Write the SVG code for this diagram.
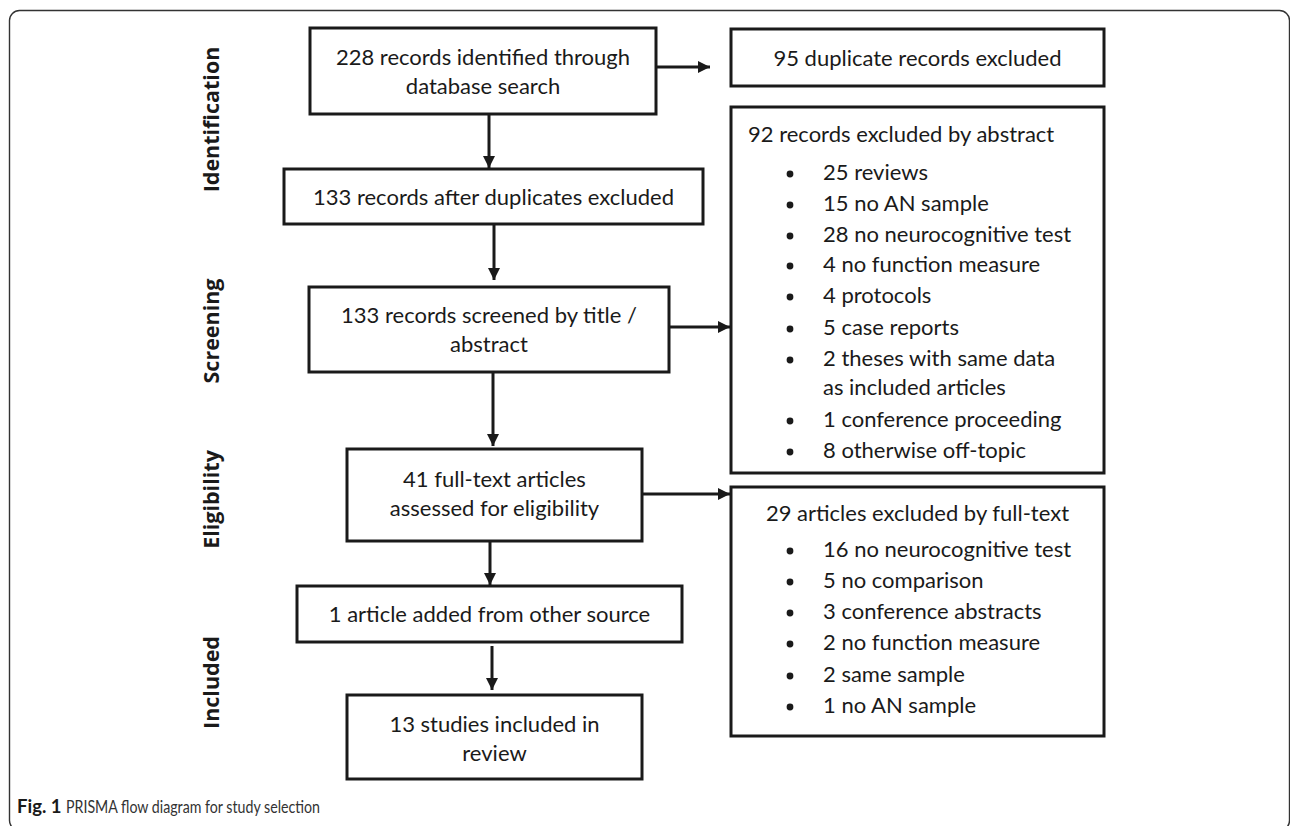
<svg xmlns="http://www.w3.org/2000/svg" width="1290" height="826" viewBox="0 0 1290 826">
  <defs>
    <marker id="arrow" markerUnits="userSpaceOnUse" markerWidth="13" markerHeight="12" refX="12" refY="6" orient="auto">
      <path d="M0,0 L12,6 L0,12 Z" fill="#1a1a1a"/>
    </marker>
    <style>
      .box { fill: #ffffff; stroke: #1a1a1a; stroke-width: 3; }
      .t { font-family: Lato, "Liberation Sans", sans-serif; font-size: 22px; fill: #1a1a1a; }
      .c { text-anchor: middle; }
      .side { font-family: "Open Sans", "Liberation Sans", sans-serif; font-size: 21.5px; font-weight: bold; fill: #1a1a1a; text-anchor: middle; }
      .bul { fill: #1a1a1a; }
      .conn { stroke: #1a1a1a; stroke-width: 3; fill: none; marker-end: url(#arrow); }
      .cap { font-family: Lato, "Liberation Sans", sans-serif; font-size: 17.5px; fill: #333333; }
      .capb { font-family: Lato, "Liberation Sans", sans-serif; font-size: 18.5px; font-weight: bold; fill: #1a1a1a; }
    </style>
  </defs>
  <rect width="1290" height="826" fill="#ffffff"/>
  <rect x="9.5" y="10.5" width="1280" height="820" rx="10" ry="10" fill="none" stroke="#333333" stroke-width="1.4"/>

  <g id="side-labels">
    <text class="side" transform="translate(219,119.5) rotate(-90)">Identification</text>
    <text class="side" transform="translate(219,331) rotate(-90)">Screening</text>
    <text class="side" transform="translate(219,499.5) rotate(-90)">Eligibility</text>
    <text class="side" transform="translate(219,682.5) rotate(-90)">Included</text>
  </g>

  <g id="connectors">
    <line class="conn" x1="656" y1="67" x2="710" y2="67"/>
    <line class="conn" x1="489" y1="114" x2="489" y2="168"/>
    <line class="conn" x1="494" y1="224" x2="494" y2="280"/>
    <line class="conn" x1="669" y1="327" x2="730" y2="327"/>
    <line class="conn" x1="493" y1="372" x2="493" y2="446"/>
    <line class="conn" x1="642" y1="494" x2="730" y2="494"/>
    <line class="conn" x1="490" y1="541" x2="490" y2="585"/>
    <line class="conn" x1="492" y1="646" x2="492" y2="690"/>
  </g>

  <g id="node-identified">
    <rect class="box" x="310" y="28" width="346" height="86"/>
    <text class="t c" x="483" y="64.5">228 records identified through</text>
    <text class="t c" x="483" y="93.5">database search</text>
  </g>

  <g id="node-duplicates">
    <rect class="box" x="731" y="29" width="373" height="57"/>
    <text class="t c" x="917.5" y="65.5">95 duplicate records excluded</text>
  </g>

  <g id="node-after-duplicates">
    <rect class="box" x="284" y="169" width="419" height="55"/>
    <text class="t c" x="493.5" y="204.5">133 records after duplicates excluded</text>
  </g>

  <g id="node-screened">
    <rect class="box" x="309" y="287" width="360" height="85"/>
    <text class="t c" x="489" y="323">133 records screened by title /</text>
    <text class="t c" x="489" y="352">abstract</text>
  </g>

  <g id="node-excluded-abstract">
    <rect class="box" x="731" y="107" width="373" height="366"/>
    <text class="t" x="748" y="142">92 records excluded by abstract</text>
    <circle class="bul" cx="790" cy="174" r="3.4"/>
    <text class="t" x="823" y="180">25 reviews</text>
    <circle class="bul" cx="790" cy="205" r="3.4"/>
    <text class="t" x="823" y="211">15 no AN sample</text>
    <circle class="bul" cx="790" cy="236" r="3.4"/>
    <text class="t" x="823" y="242">28 no neurocognitive test</text>
    <circle class="bul" cx="790" cy="266" r="3.4"/>
    <text class="t" x="823" y="272">4 no function measure</text>
    <circle class="bul" cx="790" cy="297" r="3.4"/>
    <text class="t" x="823" y="303">4 protocols</text>
    <circle class="bul" cx="790" cy="329" r="3.4"/>
    <text class="t" x="823" y="335">5 case reports</text>
    <circle class="bul" cx="790" cy="360" r="3.4"/>
    <text class="t" x="823" y="366">2 theses with same data</text>
    <text class="t" x="823" y="395">as included articles</text>
    <circle class="bul" cx="790" cy="421" r="3.4"/>
    <text class="t" x="823" y="427">1 conference proceeding</text>
    <circle class="bul" cx="790" cy="452" r="3.4"/>
    <text class="t" x="823" y="458">8 otherwise off-topic</text>
  </g>

  <g id="node-fulltext">
    <rect class="box" x="347" y="449" width="295" height="92"/>
    <text class="t c" x="494.5" y="487">41 full-text articles</text>
    <text class="t c" x="494.5" y="516">assessed for eligibility</text>
  </g>

  <g id="node-excluded-fulltext">
    <rect class="box" x="731" y="487" width="373" height="249"/>
    <text class="t c" x="917.5" y="521">29 articles excluded by full-text</text>
    <circle class="bul" cx="790" cy="551" r="3.4"/>
    <text class="t" x="823" y="557">16 no neurocognitive test</text>
    <circle class="bul" cx="790" cy="582" r="3.4"/>
    <text class="t" x="823" y="588">5 no comparison</text>
    <circle class="bul" cx="790" cy="613" r="3.4"/>
    <text class="t" x="823" y="619">3 conference abstracts</text>
    <circle class="bul" cx="790" cy="644" r="3.4"/>
    <text class="t" x="823" y="650">2 no function measure</text>
    <circle class="bul" cx="790" cy="676" r="3.4"/>
    <text class="t" x="823" y="682">2 same sample</text>
    <circle class="bul" cx="790" cy="707" r="3.4"/>
    <text class="t" x="823" y="713">1 no AN sample</text>
  </g>

  <g id="node-added">
    <rect class="box" x="297" y="586" width="385" height="56"/>
    <text class="t c" x="489.5" y="622">1 article added from other source</text>
  </g>

  <g id="node-included">
    <rect class="box" x="347" y="695" width="295" height="84"/>
    <text class="t c" x="494.5" y="731.5">13 studies included in</text>
    <text class="t c" x="494.5" y="760.5">review</text>
  </g>

  <g id="caption">
    <text class="capb" x="17" y="813">Fig. 1</text>
    <text class="cap" x="66" y="813" textLength="254" lengthAdjust="spacingAndGlyphs">PRISMA flow diagram for study selection</text>
  </g>
</svg>
